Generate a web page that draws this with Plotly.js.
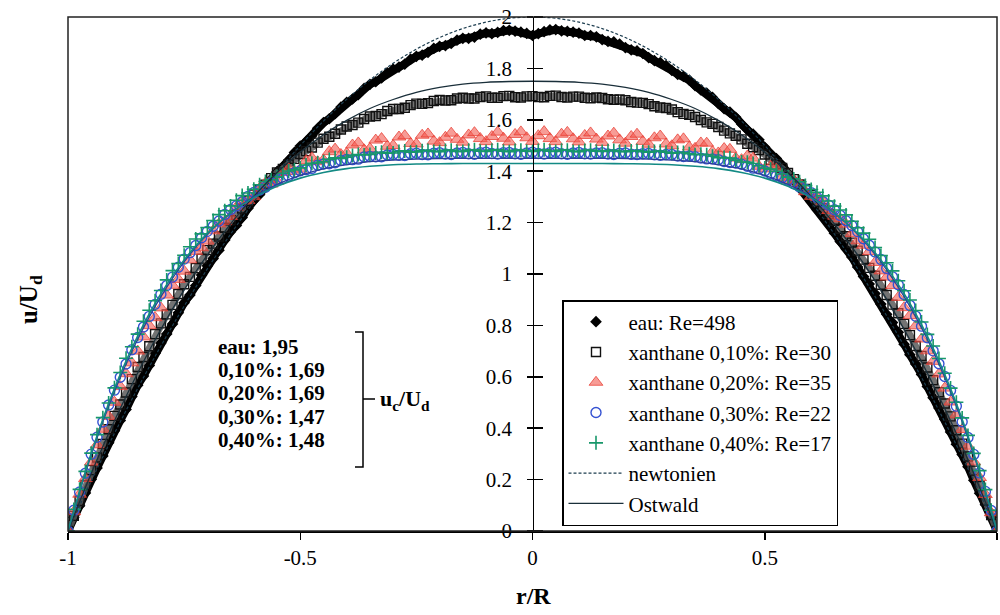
<!DOCTYPE html>
<html>
<head>
<meta charset="utf-8">
<script src="https://cdn.plot.ly/plotly-3.0.1.min.js"></script>
<style>html,body{margin:0;padding:0;background:#fff;}#chart{width:1000px;height:615px;}</style>
</head>
<body>
<div id="chart"></div>
<script>
// r/R positions of the measurements
const rData = [-1,-0.9875,-0.975,-0.9625,-0.95,-0.9375,-0.925,-0.9125,-0.9,-0.8875,-0.875,-0.8625,-0.85,-0.8375,-0.825,-0.8125,-0.8,-0.7875,-0.775,-0.7625,-0.75,-0.7375,-0.725,-0.7125,-0.7,-0.6875,-0.675,-0.6625,-0.65,-0.6375,-0.625,-0.6125,-0.6,-0.5875,-0.575,-0.5625,-0.55,-0.5375,-0.525,-0.5125,-0.5,-0.4875,-0.475,-0.4625,-0.45,-0.4375,-0.425,-0.4125,-0.4,-0.3875,-0.375,-0.3625,-0.35,-0.3375,-0.325,-0.3125,-0.3,-0.2875,-0.275,-0.2625,-0.25,-0.2375,-0.225,-0.2125,-0.2,-0.1875,-0.175,-0.1625,-0.15,-0.1375,-0.125,-0.1125,-0.1,-0.0875,-0.075,-0.0625,-0.05,-0.0375,-0.025,-0.0125,
0,0.0125,0.025,0.0375,0.05,0.0625,0.075,0.0875,0.1,0.1125,0.125,0.1375,0.15,0.1625,0.175,0.1875,0.2,0.2125,0.225,0.2375,0.25,0.2625,0.275,0.2875,0.3,0.3125,0.325,0.3375,0.35,0.3625,0.375,0.3875,0.4,0.4125,0.425,0.4375,0.45,0.4625,0.475,0.4875,0.5,0.5125,0.525,0.5375,0.55,0.5625,0.575,0.5875,0.6,0.6125,0.625,0.6375,0.65,0.6625,0.675,0.6875,0.7,0.7125,0.725,0.7375,0.75,0.7625,0.775,0.7875,0.8,0.8125,0.825,0.8375,0.85,0.8625,0.875,0.8875,0.9,0.9125,0.925,0.9375,0.95,0.9625,0.975,0.9875,1];

// eau: Re=498
const uEau = [0,0.053,0.098,0.148,0.201,0.245,0.292,0.343,0.390,0.430,0.473,0.523,0.567,0.603,0.644,0.692,0.732,0.767,0.805,0.849,0.888,0.918,0.955,0.996,1.032,1.060,1.092,1.132,1.164,1.189,1.220,1.256,1.286,1.309,1.336,1.370,1.398,1.418,1.443,1.473,1.498,1.516,1.538,1.567,1.589,1.604,1.624,1.649,1.668,1.681,1.698,1.722,1.738,1.748,1.763,1.783,1.797,1.805,1.817,1.836,1.847,1.852,1.862,1.878,1.886,1.889,1.897,1.910,1.917,1.917,1.922,1.933,1.938,1.935,1.940,1.947,1.948,1.945,1.941,1.936,
1.928,1.935,1.943,1.950,1.951,1.946,1.944,1.941,1.937,1.928,1.928,1.923,1.912,1.905,1.903,1.895,1.881,1.872,1.868,1.858,1.842,1.830,1.823,1.811,1.792,1.777,1.769,1.754,1.733,1.716,1.704,1.687,1.663,1.643,1.630,1.610,1.584,1.561,1.544,1.522,1.493,1.467,1.449,1.424,1.393,1.364,1.342,1.315,1.281,1.250,1.226,1.195,1.159,1.126,1.098,1.066,1.027,0.990,0.961,0.924,0.883,0.843,0.811,0.773,0.727,0.686,0.650,0.609,0.562,0.518,0.479,0.435,0.385,0.338,0.298,0.250,0.197,0.147,0.104,0.054,0];

// xanthane 0,10%: Re=30
const uX10 = [0,0.059,0.117,0.179,0.237,0.286,0.339,0.396,0.448,0.492,0.539,0.591,0.638,0.677,0.719,0.766,0.808,0.843,0.880,0.922,0.960,0.989,1.023,1.060,1.093,1.118,1.146,1.180,1.209,1.230,1.255,1.284,1.309,1.327,1.347,1.373,1.395,1.409,1.426,1.448,1.467,1.478,1.492,1.511,1.526,1.534,1.546,1.562,1.574,1.580,1.589,1.603,1.613,1.615,1.622,1.634,1.642,1.642,1.647,1.657,1.663,1.662,1.665,1.673,1.677,1.675,1.676,1.683,1.686,1.683,1.683,1.689,1.691,1.686,1.686,1.692,1.693,1.688,1.687,1.691,
1.692,1.689,1.688,1.693,1.694,1.689,1.687,1.690,1.690,1.686,1.684,1.687,1.685,1.680,1.678,1.679,1.676,1.669,1.667,1.666,1.661,1.653,1.648,1.646,1.640,1.630,1.623,1.619,1.611,1.599,1.590,1.584,1.572,1.558,1.547,1.538,1.524,1.507,1.493,1.482,1.465,1.444,1.427,1.413,1.393,1.369,1.348,1.331,1.307,1.280,1.256,1.234,1.207,1.176,1.147,1.122,1.091,1.056,1.024,0.993,0.958,0.918,0.881,0.847,0.806,0.762,0.720,0.681,0.636,0.587,0.540,0.496,0.446,0.392,0.340,0.290,0.235,0.175,0.118,0.062,0];

// xanthane 0,20%: Re=35
const uX20 = [0,0.075,0.143,0.204,0.268,0.335,0.396,0.446,0.501,0.562,0.612,0.654,0.700,0.755,0.799,0.830,0.868,0.918,0.956,0.979,1.011,1.055,1.088,1.102,1.128,1.168,1.195,1.204,1.224,1.260,1.284,1.286,1.301,1.334,1.354,1.350,1.361,1.395,1.410,1.399,1.408,1.441,1.452,1.437,1.444,1.476,1.486,1.465,1.470,1.502,1.510,1.483,1.488,1.521,1.527,1.497,1.500,1.533,1.538,1.508,1.506,1.540,1.545,1.517,1.511,1.532,1.548,1.524,1.513,1.541,1.550,1.527,1.515,1.535,1.552,1.528,1.514,1.543,1.553,1.530,
1.516,1.538,1.554,1.527,1.515,1.544,1.551,1.526,1.514,1.539,1.549,1.525,1.512,1.537,1.548,1.522,1.509,1.535,1.544,1.516,1.505,1.530,1.537,1.506,1.499,1.522,1.526,1.494,1.489,1.510,1.509,1.476,1.471,1.488,1.485,1.451,1.445,1.459,1.451,1.419,1.409,1.419,1.409,1.376,1.362,1.366,1.353,1.320,1.302,1.298,1.283,1.247,1.225,1.215,1.194,1.157,1.129,1.112,1.087,1.045,1.012,0.988,0.955,0.909,0.869,0.838,0.798,0.747,0.701,0.660,0.611,0.556,0.502,0.452,0.395,0.330,0.269,0.208,0.142,0.071,0];

// xanthane 0,30%: Re=22
const uX30 = [0,0.081,0.152,0.225,0.299,0.365,0.424,0.490,0.548,0.598,0.650,0.705,0.753,0.794,0.835,0.882,0.921,0.955,0.988,1.026,1.058,1.083,1.111,1.141,1.166,1.186,1.206,1.232,1.251,1.265,1.281,1.302,1.317,1.327,1.338,1.355,1.366,1.372,1.381,1.394,1.402,1.406,1.411,1.423,1.428,1.429,1.433,1.442,1.446,1.445,1.447,1.455,1.457,1.456,1.456,1.463,1.465,1.462,1.461,1.468,1.470,1.465,1.464,1.470,1.472,1.467,1.465,1.471,1.473,1.468,1.466,1.472,1.474,1.469,1.467,1.472,1.473,1.468,1.466,1.471,
1.474,1.469,1.467,1.472,1.474,1.468,1.466,1.471,1.473,1.468,1.467,1.471,1.472,1.467,1.465,1.470,1.471,1.466,1.465,1.468,1.469,1.464,1.462,1.465,1.465,1.459,1.457,1.459,1.456,1.451,1.448,1.448,1.445,1.438,1.434,1.432,1.427,1.419,1.412,1.409,1.401,1.390,1.382,1.375,1.365,1.351,1.339,1.330,1.316,1.298,1.282,1.268,1.250,1.228,1.207,1.189,1.165,1.137,1.112,1.086,1.057,1.022,0.989,0.958,0.920,0.878,0.836,0.797,0.752,0.701,0.651,0.601,0.547,0.486,0.425,0.364,0.298,0.226,0.154,0.080,0];

// xanthane 0,40%: Re=17
const uX40 = [0,0.084,0.162,0.232,0.303,0.375,0.441,0.498,0.557,0.617,0.672,0.717,0.766,0.816,0.859,0.896,0.936,0.977,1.013,1.041,1.073,1.106,1.136,1.156,1.181,1.208,1.231,1.246,1.265,1.287,1.305,1.315,1.330,1.347,1.360,1.367,1.378,1.392,1.401,1.405,1.413,1.424,1.431,1.432,1.437,1.446,1.452,1.450,1.454,1.461,1.465,1.463,1.465,1.471,1.474,1.470,1.471,1.477,1.479,1.474,1.475,1.480,1.481,1.477,1.476,1.481,1.482,1.477,1.477,1.482,1.483,1.478,1.477,1.482,1.483,1.478,1.476,1.481,1.482,1.478,
1.477,1.481,1.483,1.478,1.477,1.482,1.482,1.477,1.476,1.481,1.482,1.478,1.477,1.480,1.481,1.477,1.476,1.479,1.480,1.476,1.474,1.477,1.478,1.474,1.470,1.473,1.473,1.468,1.464,1.466,1.464,1.458,1.453,1.453,1.451,1.443,1.436,1.435,1.430,1.421,1.412,1.408,1.400,1.389,1.377,1.370,1.359,1.344,1.329,1.318,1.304,1.284,1.264,1.249,1.230,1.205,1.180,1.159,1.135,1.103,1.072,1.044,1.012,0.974,0.935,0.899,0.858,0.813,0.765,0.720,0.671,0.614,0.556,0.501,0.440,0.372,0.302,0.235,0.161,0.081,0];

// model curves
const rFit = [-1,-0.95,-0.9,-0.85,-0.8,-0.75,-0.7,-0.65,-0.6,-0.55,-0.5,-0.45,-0.4,-0.35,-0.3,-0.25,-0.2,-0.15,-0.1,-0.05,0,0.05,0.1,0.15,0.2,0.25,0.3,0.35,0.4,0.45,0.5,0.55,0.6,0.65,0.7,0.75,0.8,0.85,0.9,0.95,1];
const uNewton = [0,0.195,0.38,0.555,0.72,0.875,1.02,1.155,1.28,1.395,1.5,1.595,1.68,1.755,1.82,1.875,1.92,1.955,1.98,1.995,2,1.995,1.98,1.955,1.92,1.875,1.82,1.755,1.68,1.595,1.5,1.395,1.28,1.155,1.02,0.875,0.72,0.555,0.38,0.195,0];
const uOstw10 = [0,0.224,0.429,0.615,0.785,0.938,1.074,1.195,1.302,1.395,1.474,1.542,1.598,1.644,1.679,1.707,1.726,1.739,1.746,1.749,1.75,1.749,1.746,1.739,1.726,1.707,1.679,1.644,1.598,1.542,1.474,1.395,1.302,1.195,1.074,0.938,0.785,0.615,0.429,0.224,0];
const uOstw30 = [0,0.296,0.543,0.746,0.912,1.047,1.154,1.237,1.301,1.349,1.384,1.409,1.425,1.437,1.443,1.447,1.449,1.450,1.45,1.45,1.45,1.45,1.45,1.450,1.449,1.447,1.443,1.437,1.425,1.409,1.384,1.349,1.301,1.237,1.154,1.047,0.912,0.746,0.543,0.296,0];
const uOstw40 = [0,0.303,0.554,0.758,0.923,1.055,1.158,1.237,1.297,1.341,1.373,1.395,1.410,1.419,1.425,1.428,1.429,1.43,1.43,1.43,1.43,1.43,1.43,1.43,1.429,1.428,1.425,1.419,1.410,1.395,1.373,1.341,1.297,1.237,1.158,1.055,0.923,0.758,0.554,0.303,0];

const xTickVals = [-1,-0.5,0,0.5,1];
const xTickText = ['-1','-0.5','0','0.5','1'];
const yTickVals = [0,0.2,0.4,0.6,0.8,1,1.2,1.4,1.6,1.8,2];
const yTickText = ['0','0.2','0.4','0.6','0.8','1','1.2','1.4','1.6','1.8','2'];
const legendNames = ['eau: Re=498','xanthane 0,10%: Re=30','xanthane 0,20%: Re=35','xanthane 0,30%: Re=22','xanthane 0,40%: Re=17','newtonien','Ostwald'];
const centreLabels = ['eau: 1,95','0,10%: 1,69','0,20%: 1,69','0,30%: 1,47','0,40%: 1,48'];

const FONT = "'Liberation Serif', 'DejaVu Serif', serif";

const traces = [
  {x:rData, y:uEau, mode:'lines', line:{color:'#000', width:8}, showlegend:false, hoverinfo:'skip', legendgroup:'g1'},
  {x:rData, y:uEau, mode:'markers', name:legendNames[0], legendgroup:'g1',
   marker:{symbol:'diamond', size:9, color:'#000'}},
  {x:rData, y:uX10, mode:'lines', line:{color:'rgba(90,90,90,0.85)', width:7}, showlegend:false, hoverinfo:'skip', legendgroup:'g2'},
  {x:rData, y:uX10, mode:'markers', name:legendNames[1], legendgroup:'g2',
   marker:{symbol:'square-open', size:9, color:'#111', line:{width:1.4}}},
  {x:rData, y:uX20, mode:'markers', name:legendNames[2], legendgroup:'g3',
   marker:{symbol:'triangle-up', size:12, color:'rgba(242,90,80,0.6)', line:{color:'rgba(232,60,50,0.75)', width:1}}},
  {x:rData, y:uX30, mode:'markers', name:legendNames[3], legendgroup:'g4',
   marker:{symbol:'circle-open', size:10, color:'#3552d2', line:{width:1.4}}},
  {x:rData, y:uX40, mode:'markers', name:legendNames[4], legendgroup:'g5',
   marker:{symbol:'cross-thin-open', size:10, color:'#17976a', line:{width:1.6, color:'#17976a'}}},
  {x:rFit, y:uNewton, yaxis:'y2', mode:'lines', name:legendNames[5], legendgroup:'g6', line:{color:'#1d3d4f', width:1.2, dash:'3px,2px', shape:'spline'}},
  {x:rFit, y:uOstw10, yaxis:'y3', mode:'lines', name:legendNames[6], legendgroup:'g7', line:{color:'#1a2f3a', width:1.3, shape:'spline'}},
  {x:rFit, y:uOstw30, yaxis:'y3', mode:'lines', showlegend:false, legendgroup:'g7', line:{color:'#2b3f99', width:1.3, shape:'spline'}},
  {x:rFit, y:uOstw40, yaxis:'y3', mode:'lines', showlegend:false, legendgroup:'g7', line:{color:'#138a84', width:1.6, shape:'spline'}}
];

const px = (v)=> (v-68)/929;
const py = (v)=> (531-v)/514;
const labelY = [347, 370, 393, 417, 440];

const annotations = [
  {xref:'paper', yref:'paper', x:px(30), y:py(300), xanchor:'center', yanchor:'middle', text:'<b>u/U<sub>d</sub></b>', textangle:-90, showarrow:false,
   font:{family:FONT, size:25}},
  {xref:'paper', yref:'paper', x:px(533), y:py(596), xanchor:'center', yanchor:'middle', text:'<b>r/R</b>', showarrow:false, font:{family:FONT, size:24}},
  {xref:'paper', yref:'paper', x:px(378), y:py(400), xanchor:'left', yanchor:'middle', showarrow:false,
   text:'<b>u<sub>c</sub>/U<sub>d</sub></b>', font:{family:FONT, size:22}}
];
centreLabels.forEach((s,i)=>{
  annotations.push({xref:'paper', yref:'paper', x:px(216), y:py(labelY[i]), xanchor:'left', yanchor:'middle',
    showarrow:false, text:'<b>'+s+'</b>', font:{family:FONT, size:21}});
});

const layout = {
  width:1000, height:615,
  margin:{l:68, r:3, t:17, b:84},
  paper_bgcolor:'#fff', plot_bgcolor:'#fff',
  font:{family:FONT, size:21, color:'#000'},
  showlegend:true,
  xaxis:{range:[-1,1], tickvals:xTickVals, ticktext:xTickText, showline:true, linecolor:'#000', linewidth:1.5,
         ticks:'outside', ticklen:7, tickwidth:1.5, tickcolor:'#000', showgrid:false, zeroline:false,
         tickfont:{family:FONT, size:21}},
  // tick labels sit a little left of the central axis line
  yaxis:{range:[0,2], tickvals:yTickVals, ticktext:yTickText, anchor:'free', position:px(512), showline:false,
         ticks:'', showgrid:false, zeroline:false, tickfont:{family:FONT, size:21}},
  // central axis line with ticks crossing it
  yaxis2:{range:[0,2], tickvals:yTickVals, overlaying:'y', anchor:'free', position:0.5, side:'left', showline:true, linecolor:'#000', linewidth:1.5,
          ticks:'outside', ticklen:6, tickwidth:1.5, tickcolor:'#000', showticklabels:false, showgrid:false, zeroline:false},
  yaxis3:{range:[0,2], tickvals:yTickVals, overlaying:'y', anchor:'free', position:0.5, side:'right',
          ticks:'outside', ticklen:9, tickwidth:1.5, tickcolor:'#000', showticklabels:false, showgrid:false, zeroline:false, showline:false},
  legend:{x:px(562), y:py(300), xanchor:'left', yanchor:'top', bgcolor:'#fff', bordercolor:'#000', borderwidth:1.5,
          font:{family:FONT, size:21, color:'#000'}, tracegroupgap:0, itemwidth:55, traceorder:'grouped'},
  shapes:[
    {type:'rect', xref:'paper', yref:'paper', x0:0, x1:1, y0:0, y1:1, line:{color:'#222', width:1.5}},
    {type:'path', xref:'paper', yref:'paper',
     path:'M '+px(355)+' '+py(332)+' L '+px(363)+' '+py(332)+' L '+px(363)+' '+py(467)+' L '+px(355)+' '+py(467)+' M '+px(363)+' '+py(399)+' L '+px(375)+' '+py(399),
     line:{color:'#000', width:1.5}}
  ],
  annotations:annotations
};

Plotly.newPlot('chart', traces, layout, {displayModeBar:false, staticPlot:true});
</script>
</body>
</html>
